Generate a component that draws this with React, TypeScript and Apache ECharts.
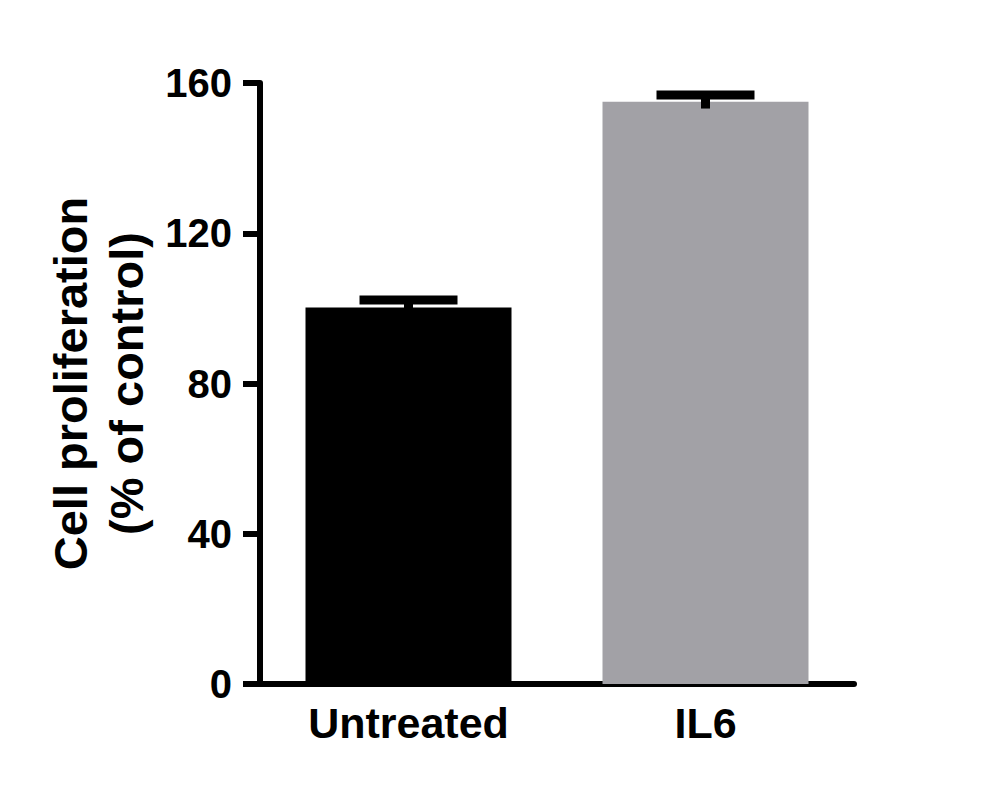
import { useRef, useEffect } from "react";
import * as echarts from "echarts";

const categories = ["Untreated", "IL6"];
const means = [100.2, 155.0];
const sems = [2.0, 1.8];
const barColors = ["#000000", "#a2a1a6"];
const yTicks = { min: 0, max: 160, interval: 40 };

const FONT = '"Liberation Sans", Arial, Helvetica, sans-serif';

export default function App() {
  const chartRef = useRef<HTMLDivElement>(null);

  useEffect(() => {
    if (!chartRef.current) return;
    const chart = echarts.init(chartRef.current, null, { renderer: "svg" });

    const errorData = means.map((m, i) => [i, m, sems[i]]);

    chart.setOption({
      animation: false,
      backgroundColor: "#ffffff",
      grid: { left: 260, right: 136, top: 83, bottom: 112, containLabel: false },
      xAxis: {
        type: "category",
        data: categories,
        axisLine: { lineStyle: { color: "#000", width: 6 } },
        axisTick: { show: false },
        axisLabel: {
          margin: 17,
          fontFamily: FONT,
          fontWeight: "bold",
          fontSize: 43,
          lineHeight: 43,
          color: "#000",
        },
      },
      yAxis: {
        type: "value",
        min: yTicks.min,
        max: yTicks.max,
        interval: yTicks.interval,
        name: "Cell proliferation\n(% of control)",
        nameLocation: "middle",
        nameGap: 104,
        nameTextStyle: {
          fontFamily: FONT,
          fontWeight: "bold",
          fontSize: 47,
          lineHeight: 56,
          color: "#000",
        },
        axisLine: { show: true, lineStyle: { color: "#000", width: 6 } },
        axisTick: { show: true, length: 17, lineStyle: { color: "#000", width: 6 } },
        splitLine: { show: false },
        axisLabel: {
          margin: 28,
          fontFamily: FONT,
          fontWeight: "bold",
          fontSize: 40,
          color: "#000",
        },
      },
      series: [
        {
          type: "bar",
          barWidth: 206,
          data: means.map((v, i) => ({ value: v, itemStyle: { color: barColors[i] } })),
          z: 2,
        },
        {
          type: "custom",
          data: errorData,
          z: 3,
          renderItem: (_params: unknown, api: any) => {
            const idx = api.value(0);
            const mean = api.value(1);
            const err = api.value(2);
            const top = api.coord([idx, mean + err]);
            const bottom = api.coord([idx, mean - err]);
            const half = 49;
            return {
              type: "group",
              children: [
                {
                  type: "line",
                  shape: { x1: top[0], y1: top[1], x2: bottom[0], y2: bottom[1] },
                  style: { stroke: "#000", lineWidth: 9 },
                },
                {
                  type: "line",
                  shape: { x1: top[0] - half, y1: top[1], x2: top[0] + half, y2: top[1] },
                  style: { stroke: "#000", lineWidth: 9 },
                },
              ],
            };
          },
        },
      ],
    });

    return () => {
      chart.dispose();
    };
  }, []);

  return (
    <div
      ref={chartRef}
      style={{ position: "absolute", left: 0, top: 0, width: 990, height: 796, background: "#fff" }}
    />
  );
}
